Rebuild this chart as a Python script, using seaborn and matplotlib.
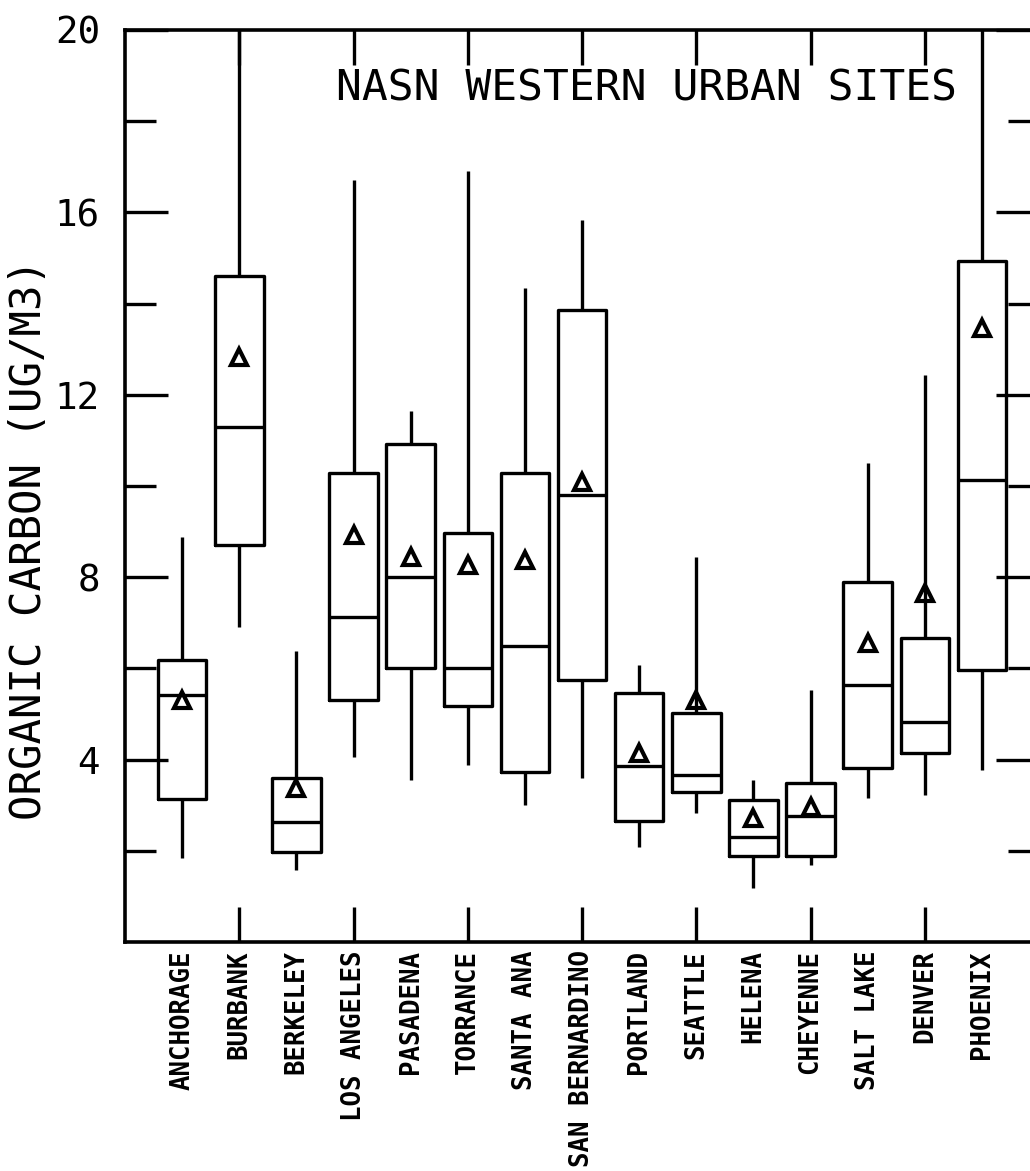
import numpy as np
import pandas as pd
import matplotlib
matplotlib.use('Agg')
import matplotlib.pyplot as plt
import seaborn as sns
from matplotlib.ticker import FixedLocator

# --- data (ug/m3) ---
sites = ['ANCHORAGE', 'BURBANK', 'BERKELEY', 'LOS ANGELES', 'PASADENA',
         'TORRANCE', 'SANTA ANA', 'SAN BERNARDINO', 'PORTLAND', 'SEATTLE',
         'HELENA', 'CHEYENNE', 'SALT LAKE', 'DENVER', 'PHOENIX']
whisker_lo = [1.84, 6.90, 1.58, 4.06, 3.55, 3.88, 3.00, 3.60, 2.08, 2.83, 1.18, 1.69, 3.16, 3.22, 3.77]
q1 = [3.14, 8.70, 1.97, 5.30, 6.00, 5.18, 3.73, 5.75, 2.66, 3.29, 1.89, 1.89, 3.82, 4.14, 5.96]
median = [5.42, 11.30, 2.63, 7.13, 8.00, 6.00, 6.50, 9.80, 3.85, 3.66, 2.30, 2.76, 5.64, 4.82, 10.13]
q3 = [6.18, 14.60, 3.60, 10.29, 10.93, 8.97, 10.28, 13.86, 5.45, 5.02, 3.11, 3.49, 7.89, 6.67, 14.93]
whisker_hi = [8.88, 22.0, 6.38, 16.70, 11.65, 16.90, 14.34, 15.83, 6.07, 8.45, 3.55, 5.53, 10.50, 12.43, 22.0]
mean = [5.30, 12.83, 3.38, 8.93, 8.44, 8.27, 8.38, 10.09, 4.14, 5.30, 2.72, 2.96, 6.56, 7.65, 13.46]

y_ticks = [4, 8, 12, 16, 20]
y_minor = [2, 6, 10, 14, 18]

# five points per site give exactly these box stats with whis=(0, 100)
rows = []
for i, s in enumerate(sites):
    for v in (whisker_lo[i], q1[i], median[i], q3[i], whisker_hi[i]):
        rows.append({'site': s, 'oc': v})
df_box = pd.DataFrame(rows)
df_mean = pd.DataFrame({'site': sites, 'oc': mean})

sns.set_style('ticks')
plt.rcParams['font.family'] = ['DejaVu Sans Mono']
plt.rcParams['text.color'] = 'black'
plt.rcParams['axes.labelcolor'] = 'black'
plt.rcParams['xtick.color'] = 'black'
plt.rcParams['ytick.color'] = 'black'

fig = plt.figure(figsize=(10.30, 11.71), dpi=100)
ax = fig.add_axes([0.1214, 0.1956, 0.8874, 0.7788])

sns.boxplot(data=df_box, x='site', y='oc', order=sites, whis=(0, 100),
            width=0.85, fill=False, color='black', linewidth=2.4,
            showcaps=False, ax=ax)
sns.pointplot(data=df_mean, x='site', y='oc', order=sites, errorbar=None,
              linestyle='none', marker='^', color='black', markersize=11,
              markeredgewidth=3, markerfacecolor='none', ax=ax)

ax.set_xlim(-1, 15)
ax.set_ylim(0, 20)

# x axis: labels under every site, tick marks only at every other site
ax.xaxis.remove_overlapping_locs = False
ax.set_xticks(range(len(sites)))
ax.set_xticklabels(sites, rotation=90, fontsize=18.5, fontweight='bold')
ax.xaxis.set_minor_locator(FixedLocator(list(range(1, 15, 2))))
ax.tick_params(axis='x', which='major', length=0, pad=6)
ax.tick_params(axis='x', which='minor', length=25, width=2.4, direction='in',
               top=True, bottom=True)

ax.set_yticks(y_ticks)
ax.set_yticklabels([str(t) for t in y_ticks])
ax.yaxis.set_minor_locator(FixedLocator(y_minor))
ax.tick_params(axis='y', which='major', length=31, width=2.4, direction='in',
               left=True, right=True, labelsize=27, pad=18)
ax.tick_params(axis='y', which='minor', length=22, width=2.4, direction='in',
               left=True, right=True)

for sp in ax.spines.values():
    sp.set_linewidth(2.6)
    sp.set_color('black')

ax.set_xlabel('')
ax.set_ylabel('ORGANIC CARBON (UG/M3)', fontsize=30.5, va='center')
ax.yaxis.set_label_coords(-0.105, 0.441)

ax.text(0.571, 0.936, 'NASN WESTERN URBAN SITES', transform=ax.transAxes,
        ha='center', va='center', fontsize=31)

fig.savefig('out.png', dpi=100)
